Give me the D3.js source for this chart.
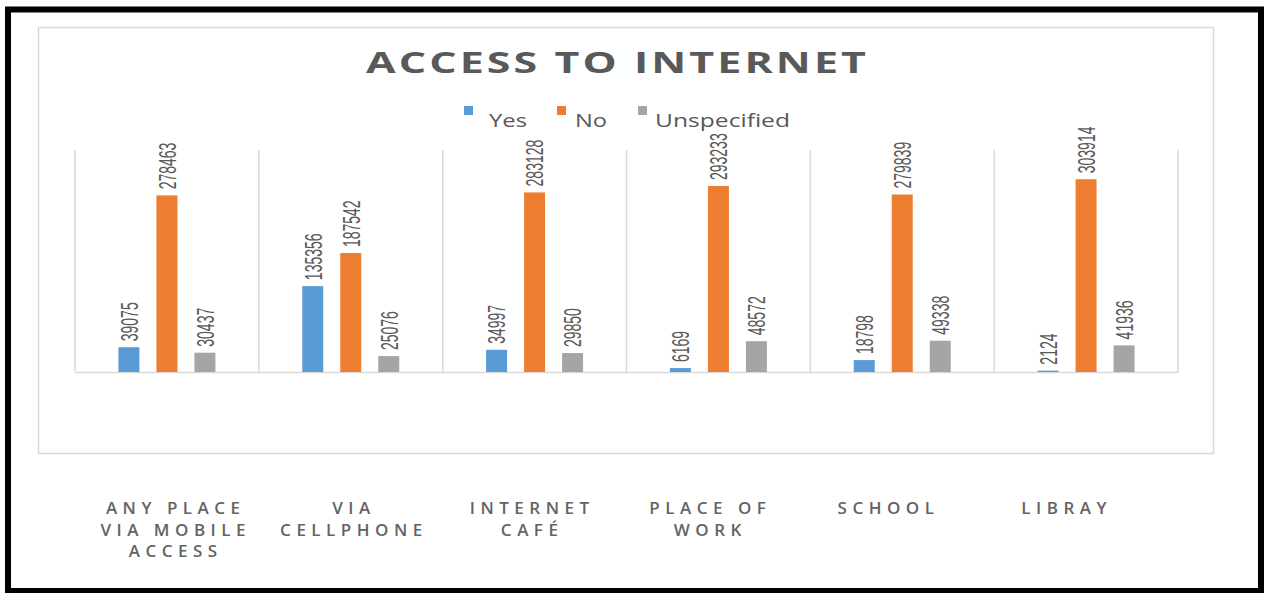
<!DOCTYPE html>
<html>
<head>
<meta charset="utf-8">
<script src="https://cdn.jsdelivr.net/npm/d3@7"></script>
<style>
  html, body { margin: 0; padding: 0; background: #fff; }
  svg { display: block; }
</style>
</head>
<body>
<div id="chart-access"></div>
<script>
// ── Data ─────────────────────────────────────
const categories = ["Any place via mobile access", "Via cellphone", "Internet café", "Place of work", "School", "Libray"];
const categoryLines = [
  ["ANY PLACE", "VIA MOBILE", "ACCESS"],
  ["VIA", "CELLPHONE"],
  ["INTERNET", "CAFÉ"],
  ["PLACE OF", "WORK"],
  ["SCHOOL"],
  ["LIBRAY"]
];
const seriesNames = ["Yes", "No", "Unspecified"];
const yesValues         = [39075, 135356, 34997, 6169, 18798, 2124];
const noValues          = [278463, 187542, 283128, 293233, 279839, 303914];
const unspecifiedValues = [30437, 25076, 29850, 48572, 49338, 41936];
const yMax = 350000;

(function () {
  const W = 1264, H = 593;
  const COLORS = { "Yes": "#5B9BD5", "No": "#ED7D31", "Unspecified": "#A5A5A5" };
  const TEXT = "#595959";
  const FONT = "'Open Sans', 'Liberation Sans', sans-serif";
  const LABEL_FONT = "'Liberation Sans', Arial, sans-serif";

  const valuesBySeries = { "Yes": yesValues, "No": noValues, "Unspecified": unspecifiedValues };
  const rows = categories.map((c, i) => ({
    category: c,
    values: seriesNames.map(s => ({ series: s, value: valuesBySeries[s][i] }))
  }));

  const svg = d3.select("#chart-access").append("svg")
    .attr("width", W).attr("height", H);

  // outer black frame + chart area border
  svg.append("rect").attr("x", 8).attr("y", 9.5).attr("width", 1253).attr("height", 581.5)
    .attr("fill", "#fff").attr("stroke", "#000").attr("stroke-width", 6);
  svg.append("rect").attr("x", 38.5).attr("y", 27.5).attr("width", 1175).attr("height", 426)
    .attr("fill", "none").attr("stroke", "#D9D9D9").attr("stroke-width", 1.5);

  // ── Scales ─────────────────────────────────
  const plot = { left: 75, right: 1178, top: 150, bottom: 372 };
  const x0 = d3.scaleBand().domain(categories).range([plot.left, plot.right]);
  const x1 = d3.scaleBand().domain(seriesNames).range([0, 97])
    .paddingInner(17 / 38).paddingOuter(0);
  const y = d3.scaleLinear().domain([0, yMax]).range([plot.bottom, plot.top]);

  // vertical category separators
  const sep = d3.range(categories.length + 1).map(i => plot.left + i * x0.step());
  svg.append("g").selectAll("line").data(sep).join("line")
    .attr("x1", d => d).attr("x2", d => d)
    .attr("y1", plot.top).attr("y2", plot.bottom)
    .attr("stroke", "#D9D9D9").attr("stroke-width", 1.5);

  // baseline (x axis)
  const xAxis = svg.append("g").attr("transform", `translate(0,${plot.bottom})`)
    .call(d3.axisBottom(x0).tickSize(0).tickFormat(""));
  xAxis.select(".domain").attr("stroke", "#D9D9D9").attr("stroke-width", 1.5);

  // ── Bars ───────────────────────────────────
  const groups = svg.append("g").selectAll("g").data(rows).join("g")
    .attr("transform", d => `translate(${x0(d.category) + x0.bandwidth() / 2 - 48.5},0)`);

  groups.selectAll("rect").data(d => d.values).join("rect")
    .attr("x", d => x1(d.series))
    .attr("y", d => y(d.value))
    .attr("width", x1.bandwidth())
    .attr("height", d => plot.bottom - y(d.value))
    .attr("fill", d => COLORS[d.series]);

  // rotated value labels
  groups.selectAll("text").data(d => d.values).join("text")
    .attr("transform", d =>
      `translate(${x1(d.series) + x1.bandwidth() / 2},${y(d.value) - 6}) scale(1.75,1) rotate(-90)`)
    .attr("dy", "0.36em")
    .attr("font-family", LABEL_FONT).attr("font-size", "14px")
    .attr("fill", TEXT)
    .text(d => d.value);

  // ── Title ──────────────────────────────────
  svg.append("text")
    .attr("x", 366).attr("y", 73)
    .attr("font-family", FONT).attr("font-weight", 700).attr("font-size", "28px")
    .attr("letter-spacing", "2px")
    .attr("fill", TEXT)
    .attr("textLength", 503).attr("lengthAdjust", "spacingAndGlyphs")
    .text("ACCESS TO INTERNET");

  // ── Legend ─────────────────────────────────
  const legendPos = { "Yes": [464, 489, 38], "No": [557, 575, 32], "Unspecified": [638, 655, 135] };
  const legend = svg.append("g").selectAll("g").data(seriesNames).join("g");
  legend.append("rect")
    .attr("x", d => legendPos[d][0]).attr("y", 106)
    .attr("width", 9).attr("height", 9)
    .attr("fill", d => COLORS[d]);
  legend.append("text")
    .attr("x", d => legendPos[d][1]).attr("y", 127)
    .attr("font-family", FONT).attr("font-size", "19px").attr("fill", TEXT)
    .attr("textLength", d => legendPos[d][2]).attr("lengthAdjust", "spacingAndGlyphs")
    .text(d => d);

  // ── Category labels (below the chart area) ─
  const xl = d3.scalePoint().domain(categories).range([173, 1064]);
  const LS = 5.5;
  const cat = svg.append("g").selectAll("text").data(rows).join("text")
    .attr("font-family", FONT).attr("font-weight", 600).attr("font-size", "17px")
    .attr("letter-spacing", LS + "px")
    .attr("fill", "#636363").attr("text-anchor", "middle");
  cat.selectAll("tspan").data((d, i) => categoryLines[i].map(t => ({ t, c: d.category })))
    .join("tspan")
    .attr("x", d => xl(d.c) + LS / 2)
    .attr("y", (d, j) => 514 + j * 21.5)
    .text(d => d.t);
})();
</script>
</body>
</html>
